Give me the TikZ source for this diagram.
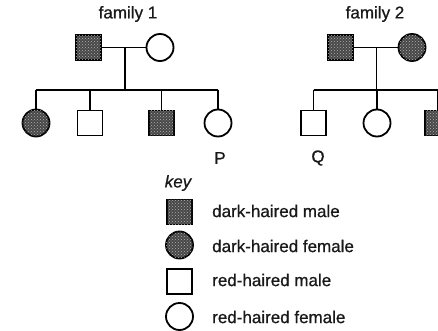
\documentclass[tikz,border=0pt]{standalone}
\usepackage{fontspec}
\setmainfont{Liberation Sans}
\newfontfamily\lblfont[FakeBold=0.8]{Liberation Sans}
\usetikzlibrary{calc,patterns}
\tikzset{
  person/.style={draw=black, line width=1.8pt, inner sep=0pt},
  male/.style={person, rectangle, minimum size=25pt},
  female/.style={person, circle, minimum size=27pt},
  dark/.style={fill=black!72, postaction={pattern=crosshatch dots, pattern color=black!30}},
  link/.style={line width=1.6pt},
  lbl/.style={font=\lblfont\fontsize{17}{19}\selectfont, inner sep=0pt, text=black!90},
}
\begin{document}
\begin{tikzpicture}[x=1pt,y=-1pt]
\useasboundingbox (0,0) rectangle (438,331);
\clip (0,0) rectangle (438,331);
% family 1
\node[lbl] (t1) at (128,14) {family 1};
\node[male,dark] (f1dad) at (88.5,47.5) {};
\node[female] (f1mom) at (160,47.5) {};
\coordinate (f1m) at (125,47.5);
\coordinate (f1s) at (125,90);
\node[female,dark] (f1c1) at (36,123) {};
\node[male] (f1c2) at (90,123) {};
\node[male,dark] (f1c3) at (161.5,123) {};
\node[female] (f1c4) at (218,123) {};
\draw[link] (f1dad) -- (f1mom);
\draw[link] (f1m) -- (f1s);
\draw[link] (f1c1 |- f1s) -- (f1c4 |- f1s);
\foreach \c in {f1c1,f1c2,f1c3,f1c4} \draw[link] (\c |- f1s) -- (\c);
\node[lbl] (p) at (220,158) {P};
% family 2
\node[lbl] (t2) at (375,14) {family 2};
\node[male,dark] (f2dad) at (340.5,47.5) {};
\node[female,dark] (f2mom) at (412,47.5) {};
\coordinate (f2m) at (376.5,47.5);
\coordinate (f2s) at (376.5,90);
\node[male] (f2c1) at (313.5,123) {};
\node[female] (f2c2) at (377,123) {};
\node[male,dark] (f2c3) at (437.5,123) {};
\draw[link] (f2dad) -- (f2mom);
\draw[link] (f2m) -- (f2s);
\draw[link] (f2c1 |- f2s) -- (f2c3 |- f2s);
\foreach \c in {f2c1,f2c2,f2c3} \draw[link] (\c |- f2s) -- (\c);
\node[lbl] (q) at (318,158) {Q};
% key
\node[lbl, font=\lblfont\fontsize{17}{19}\selectfont\itshape] (key) at (178,183) {key};
\node[male,dark] (k1) at (179.5,212) {};
\node[female,dark] (k2) at (179.5,245) {};
\node[male] (k3) at (179.5,281.5) {};
\node[female] (k4) at (179.5,316.5) {};
\node[lbl, anchor=west] (k1t) at (212,211) {dark-haired male};
\node[lbl, anchor=west] (k2t) at (212,246) {dark-haired female};
\node[lbl, anchor=west] (k3t) at (212,280) {red-haired male};
\node[lbl, anchor=west] (k4t) at (212,317) {red-haired female};
\end{tikzpicture}
\end{document}
